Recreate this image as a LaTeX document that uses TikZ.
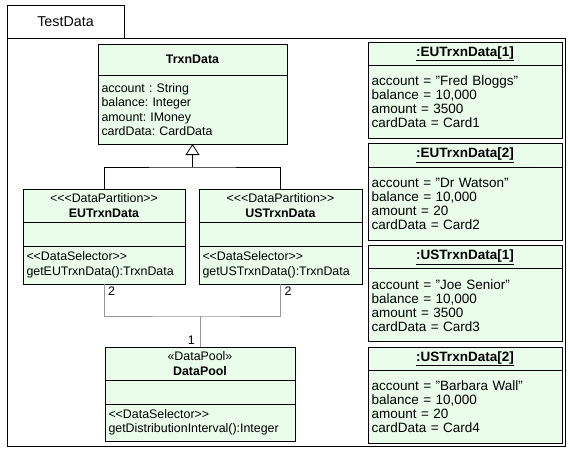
\documentclass[tikz,border=0pt]{standalone}
\usepackage{fontspec}
\setmainfont{Liberation Sans}[Ligatures=TeXOff]
\usetikzlibrary{arrows.meta,positioning}
\definecolor{umlfill}{RGB}{234,252,234}
\definecolor{assocgray}{RGB}{150,150,150}
\newcommand\objfont{\fontsize{13.5}{14}\selectfont}
\tikzset{
  frame/.style = {draw, line width=0.8pt, inner sep=0pt, outer sep=0pt, anchor=north west},
  box/.style = {frame, fill=umlfill},
  compart/.style = {box, anchor=north, align=left, inner xsep=3.5pt},
  assoc/.style = {assocgray, line width=1pt},
  mult/.style = {inner sep=1pt}
}

\begin{document}
\frenchspacing
\fontsize{12.4}{14.5}\selectfont
\begin{tikzpicture}[x=1pt,y=-1pt]
  \useasboundingbox (0,0) rectangle (570,450);
  % package frame
  \node[frame, minimum width=117pt, minimum height=33pt, font=\fontsize{14.3}{16}\selectfont] (tab) at (7,5) {TestData};
  \draw[line width=0.8pt] (tab.south west) rectangle (565,446);
  % classes
  \node[box, minimum width=189pt, minimum height=31pt, font=\bfseries] (trxn) at (98,44) {TrxnData};
  \node[compart, below=0pt of trxn, minimum width=189pt, text width=182pt, minimum height=69pt] (trxnA)
    {account : String\\balance: Integer\\amount: IMoney\\cardData: CardData};
  %
  \node[box, minimum width=162pt, minimum height=33pt, align=center] (eu) at (23,189)
    {<<<DataPartition>>\\\textbf{EUTrxnData}};
  \node[compart, below=0pt of eu, minimum width=162pt, minimum height=24pt] (euA) {};
  \node[compart, below=0pt of euA, minimum width=162pt, text width=155pt, minimum height=38pt] (euO)
    {<<DataSelector>>\\getEUTrxnData():TrxnData};
  %
  \node[box, minimum width=163pt, minimum height=33pt, align=center] (us) at (199,189)
    {<<<DataPartition>>\\\textbf{USTrxnData}};
  \node[compart, below=0pt of us, minimum width=163pt, minimum height=24pt] (usA) {};
  \node[compart, below=0pt of usA, minimum width=163pt, text width=156pt, minimum height=38pt] (usO)
    {<<DataSelector>>\\getUSTrxnData():TrxnData};
  %
  \node[box, minimum width=190pt, minimum height=33pt, align=center] (pool) at (105,347)
    {«DataPool»\\\textbf{DataPool}};
  \node[compart, below=0pt of pool, minimum width=190pt, minimum height=24pt] (poolA) {};
  \node[compart, below=0pt of poolA, minimum width=190pt, text width=183pt, minimum height=37pt] (poolO)
    {<<DataSelector>>\\getDistributionInterval():Integer};
  % objects
  \foreach \obj/\acc/\amt [count=\k] in {{EUTrxnData[1]}/Fred Bloggs/3500, {EUTrxnData[2]}/Dr Watson/20,
      {USTrxnData[1]}/Joe Senior/3500, {USTrxnData[2]}/Barbara Wall/20} {
    \node[box, minimum width=194pt, minimum height=23.5pt, font=\objfont\bfseries] (obj\k) at (368,{42+101.67*(\k-1)})
      {\underline{:\obj}};
    \node[compart, below=0pt of obj\k, minimum width=194pt, text width=187pt, minimum height=73pt, font=\objfont] (obj\k B)
      {account = ”\acc”\\balance = 10,000\\amount = \amt\\cardData = Card\k};
  }
  % generalization
  \draw[line width=0.8pt] (eu.north) |- ([yshift=-23pt]trxnA.south) -| (us.north);
  \draw[line width=0.8pt, -{Triangle[open, length=11pt, width=14pt]}] ([yshift=-23pt]trxnA.south) -- (trxnA.south);
  % association
  \draw[assoc] (euO.south) |- ([yshift=31pt]pool.north) -| (usO.south);
  \draw[assoc] ([yshift=31pt]pool.north) -- (pool.north);
  \node[mult, anchor=north west, xshift=3pt, yshift=-2pt] (m1) at (euO.south) {2};
  \node[mult, anchor=north west, xshift=3pt, yshift=-2pt] (m2) at (usO.south) {2};
  \node[mult, anchor=south east, xshift=-4pt, yshift=1pt] (m3) at (pool.north) {1};
\end{tikzpicture}
\end{document}
